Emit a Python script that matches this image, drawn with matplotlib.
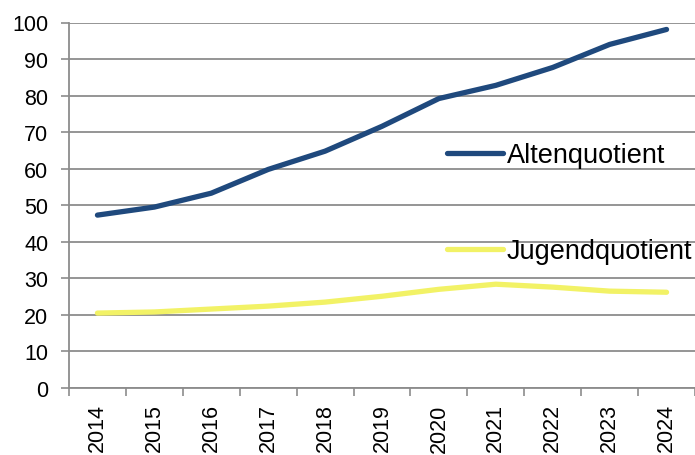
import matplotlib
matplotlib.use("Agg")
import matplotlib.pyplot as plt
import numpy as np
from matplotlib.lines import Line2D

years = ["2014", "2015", "2016", "2017", "2018", "2019", "2020", "2021", "2022", "2023", "2024"]
altenquotient = [47.3, 49.5, 53.3, 59.8, 64.8, 71.6, 79.2, 82.8, 87.7, 94.0, 98.1]
jugendquotient = [20.5, 20.8, 21.6, 22.4, 23.5, 25.1, 27.0, 28.4, 27.6, 26.5, 26.2]

plt.rcParams['font.family'] = ['Liberation Sans', 'DejaVu Sans']
fig = plt.figure(figsize=(6.95, 4.56), dpi=100)
ax = fig.add_axes([69/695, 1-389/456, 1-69/695, (389-23.5)/456])

blue = "#1F497D"
yellow = "#F2F266"
grid_c = "#8C8C8C"

x = np.arange(len(years))
ax.plot(x, altenquotient, color=blue, lw=3.8, solid_capstyle='round', solid_joinstyle='round', zorder=3)
ax.plot(x, jugendquotient, color=yellow, lw=3.8, solid_capstyle='round', solid_joinstyle='round', zorder=3)

ax.set_xlim(-0.5, len(years) - 0.5)
ax.set_ylim(0, 100)
ax.set_yticks(range(0, 101, 10))
ax.tick_params(axis='y', labelsize=15.5, length=6, color=grid_c, width=1.2, pad=9)
ax.set_xticks(x)
ax.set_xticklabels(years, rotation=90)
ax.set_xticks(np.arange(-0.5, len(years), 1), minor=True)
ax.tick_params(axis='x', which='major', length=0, labelsize=15.5, pad=11)
ax.tick_params(axis='x', which='minor', length=6, color=grid_c, width=1.2)
ax.yaxis.grid(True, color=grid_c, lw=1.3)
ax.set_axisbelow(True)
for s in ['top', 'right']:
    ax.spines[s].set_visible(False)
for s in ['left', 'bottom']:
    ax.spines[s].set_color(grid_c)
    ax.spines[s].set_linewidth(1.3)

h1 = [Line2D([], [], color=blue, lw=3.8, solid_capstyle='round')]
h2 = [Line2D([], [], color=yellow, lw=3.8, solid_capstyle='round')]
leg1 = fig.legend(h1, ["Altenquotient"], loc='center left', bbox_to_anchor=(447/695, 1-156/456),
                  frameon=False, fontsize=19.5, handlelength=2.05, handletextpad=0.15, borderpad=0, borderaxespad=0)
leg2 = fig.legend(h2, ["Jugendquotient"], loc='center left', bbox_to_anchor=(447/695, 1-252/456),
                  frameon=False, fontsize=19.5, handlelength=2.05, handletextpad=0.15, borderpad=0, borderaxespad=0)

fig.savefig("out.png", dpi=100)
